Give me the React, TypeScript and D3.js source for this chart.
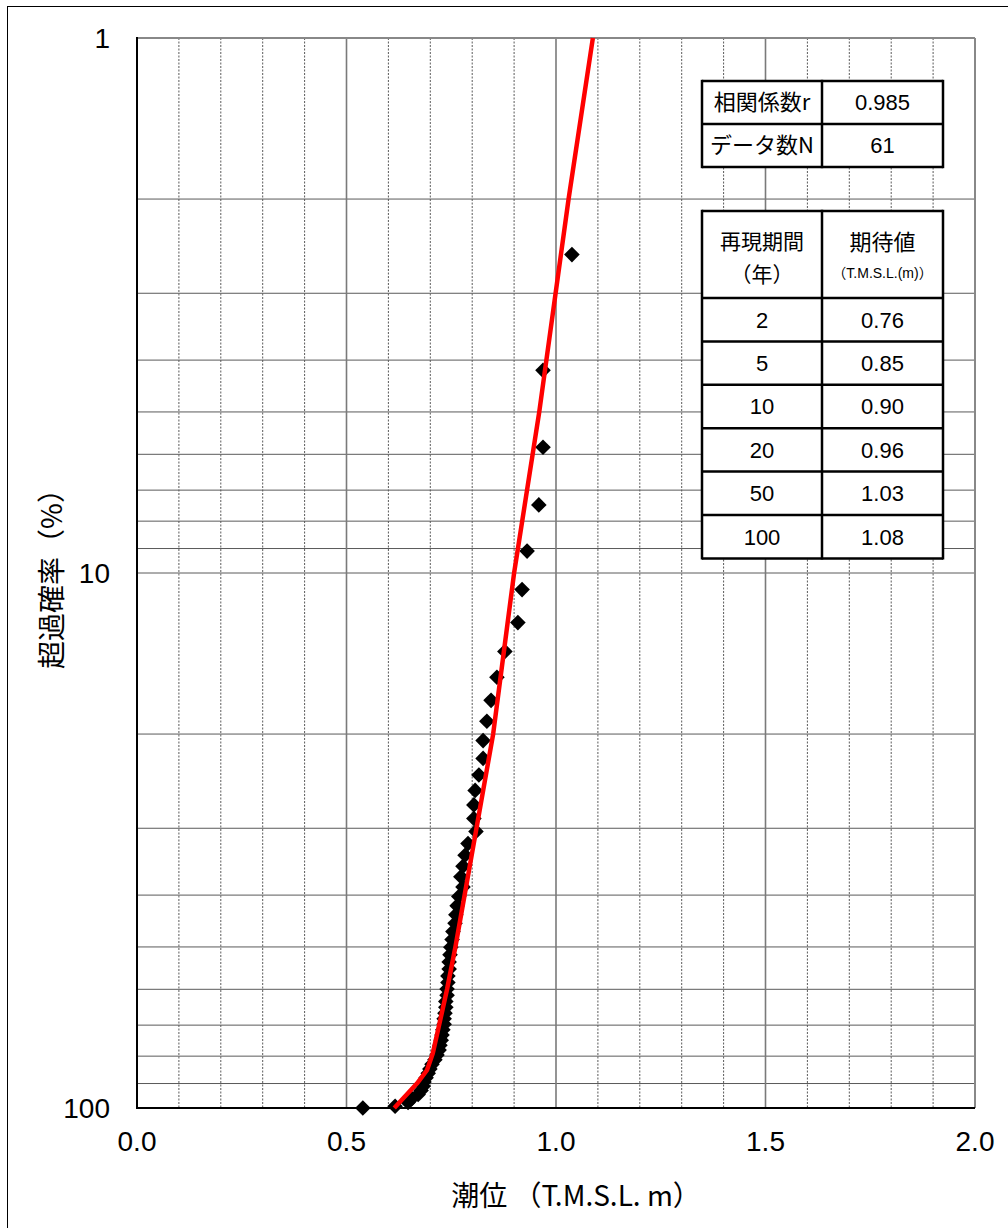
import React from "react";
import * as d3 from "d3";

// ---- data ----
const X_TICKS = [0, 0.5, 1.0, 1.5, 2.0];
const Y_TICKS = [1, 10, 100];
const Y_GRID = [2, 3, 4, 5, 6, 7, 8, 9, 10, 20, 30, 40, 50, 60, 70, 80, 90];

// observed annual maxima (T.M.S.L. m), ranked high → low
const WATER_LEVEL = [
  1.038, 0.969, 0.969, 0.959, 0.931, 0.919, 0.909, 0.878, 0.859, 0.845,
  0.835, 0.826, 0.826, 0.816, 0.807, 0.804, 0.804, 0.809, 0.79, 0.783,
  0.778, 0.773, 0.778, 0.768, 0.764, 0.761, 0.759, 0.754, 0.752, 0.749,
  0.747, 0.745, 0.745, 0.742, 0.742, 0.74, 0.74, 0.737, 0.737, 0.735,
  0.733, 0.733, 0.73, 0.728, 0.726, 0.723, 0.721, 0.716, 0.711, 0.704,
  0.699, 0.695, 0.69, 0.685, 0.683, 0.678, 0.671, 0.656, 0.647, 0.616,
  0.539,
];
// exceedance probability (%) of each point
const EXCEEDANCE = [
  2.54, 4.18, 5.82, 7.46, 9.1, 10.74, 12.38, 14.02, 15.66, 17.3,
  18.93, 20.57, 22.21, 23.85, 25.49, 27.13, 28.77, 30.41, 32.05, 33.69,
  35.33, 36.97, 38.61, 40.25, 41.89, 43.52, 45.16, 46.8, 48.44, 50.08,
  51.72, 53.36, 55.0, 56.64, 58.28, 59.92, 61.56, 63.2, 64.84, 66.48,
  68.11, 69.75, 71.39, 73.03, 74.67, 76.31, 77.95, 79.59, 81.23, 82.87,
  84.51, 86.15, 87.79, 89.43, 91.07, 92.7, 94.34, 95.98, 97.62, 99.26,
  100,
];
// fitted curve
const FIT_PROB = [1, 2, 5, 10, 20, 50, 60, 70, 79, 85, 90, 100];
const FIT_LEVEL = [1.088, 1.03, 0.96, 0.9, 0.85, 0.76, 0.74, 0.721, 0.706, 0.692, 0.668, 0.614];

const STAT_LABELS = ["相関係数r", "データ数N"];
const STAT_VALUES = ["0.985", "61"];
const RETURN_PERIODS = ["2", "5", "10", "20", "50", "100"];
const EXPECTED = ["0.76", "0.85", "0.90", "0.96", "1.03", "1.08"];

const FONT = "'Liberation Sans', Arial, 'Noto Sans CJK JP', sans-serif";
const JFONT = "'Noto Sans CJK JP', 'Liberation Sans', sans-serif";

export default function App() {
  const W = 1008;
  const H = 1228;
  const L = 137, R = 975, T = 38, B = 1108;
  const x = d3.scaleLinear().domain([0, 2]).range([L, R]);
  const y = d3.scaleLog().domain([1, 100]).range([T, B]);

  const vGrid = d3.range(1, 20).map((i) => i / 10);

  const fitPts: [number, number][] = FIT_PROB.map((p, i) => [FIT_LEVEL[i], p]);
  const line = d3
    .line<[number, number]>()
    .x((d) => x(d[0]))
    .y((d) => y(d[1]));

  const diamond = (cx: number, cy: number, r: number) =>
    `M${cx},${cy - r}L${cx + r},${cy}L${cx},${cy + r}L${cx - r},${cy}Z`;

  // tables
  const tL = 702, tM = 822, tR = 943;
  const t1Rows = [81, 124, 167];
  const t2Top = 211, t2Head = 298;
  const t2Rows = d3.range(0, 7).map((i) => t2Head + i * 43.4);

  return (
    <div style={{ position: "absolute", left: 0, top: 0 }}>
      <svg width={W} height={H} style={{ display: "block", background: "#fff" }}>
        <rect x={0} y={0} width={W} height={H} fill="#fff" />
        {/* outer frame */}
        <rect x={7.5} y={6.5} width={1100} height={1300} fill="none" stroke="#000" strokeWidth={1} />

        {/* horizontal grid */}
        {Y_GRID.map((v) => (
          <line key={"h" + v} x1={L} x2={R} y1={y(v)} y2={y(v)} stroke="#5a5a5a" strokeWidth={1} />
        ))}
        {/* vertical grid */}
        {vGrid.map((v) => {
          const major = Math.abs(v * 2 - Math.round(v * 2)) < 1e-6;
          return (
            <line
              key={"v" + v}
              x1={x(v)}
              x2={x(v)}
              y1={T}
              y2={B}
              stroke={major ? "#7a7a7a" : "#5a5a5a"}
              strokeWidth={major ? 1.6 : 1}
              strokeDasharray={major ? undefined : "2,1.5"}
            />
          );
        })}

        {/* plot border */}
        <line x1={L} x2={R} y1={T} y2={T} stroke="#888" strokeWidth={2} />
        <line x1={R} x2={R} y1={T} y2={B} stroke="#888" strokeWidth={2} />
        <line x1={L} x2={L} y1={T - 1} y2={B + 1} stroke="#000" strokeWidth={2} />
        <line x1={L - 1} x2={R} y1={B} y2={B} stroke="#000" strokeWidth={2} />

        {/* data points */}
        {WATER_LEVEL.map((v, i) => (
          <path key={"p" + i} d={diamond(x(v), y(EXCEEDANCE[i]), 7.8)} fill="#000" />
        ))}

        {/* fitted line */}
        <path d={line(fitPts) || ""} fill="none" stroke="#ff0000" strokeWidth={4.5} strokeLinejoin="round" />

        {/* y tick labels */}
        {Y_TICKS.map((v) => (
          <text
            key={"yt" + v}
            x={110}
            y={y(v)}
            dy="0.36em"
            textAnchor="end"
            fontFamily={FONT}
            fontSize={28}
            fill="#000"
          >
            {String(v)}
          </text>
        ))}
        {/* x tick labels */}
        {X_TICKS.map((v) => (
          <text
            key={"xt" + v}
            x={x(v)}
            y={1151}
            textAnchor="middle"
            fontFamily={FONT}
            fontSize={28}
            fill="#000"
          >
            {d3.format(".1f")(v)}
          </text>
        ))}

        {/* axis titles */}
        <text x={576} y={1206} textAnchor="middle" fontFamily={JFONT} fontSize={28} fill="#000">
          潮位 （T.M.S.L. m）
        </text>
        <text
          transform={`translate(62,${572}) rotate(-90)`}
          textAnchor="middle"
          fontFamily={JFONT}
          fontSize={28}
          fill="#000"
        >
          超過確率（%）
        </text>

        {/* stats table */}
        <rect x={tL} y={t1Rows[0]} width={tR - tL} height={t1Rows[2] - t1Rows[0]} fill="#fff" />
        {t1Rows.map((ry, i) => (
          <line key={"t1h" + i} x1={tL} x2={tR} y1={ry} y2={ry} stroke="#000" strokeWidth={2.5} />
        ))}
        {[tL, tM, tR].map((cx, i) => (
          <line key={"t1v" + i} x1={cx} x2={cx} y1={t1Rows[0] - 1.2} y2={t1Rows[2] + 1.2} stroke="#000" strokeWidth={2.5} />
        ))}
        {STAT_LABELS.map((s, i) => (
          <text
            key={"sl" + i}
            x={(tL + tM) / 2}
            y={(t1Rows[i] + t1Rows[i + 1]) / 2}
            dy="0.36em"
            textAnchor="middle"
            fontFamily={JFONT}
            fontSize={22}
          >
            {s}
          </text>
        ))}
        {STAT_VALUES.map((s, i) => (
          <text
            key={"sv" + i}
            x={(tM + tR) / 2}
            y={(t1Rows[i] + t1Rows[i + 1]) / 2}
            dy="0.36em"
            textAnchor="middle"
            fontFamily={FONT}
            fontSize={22}
          >
            {s}
          </text>
        ))}

        {/* return period table */}
        <rect x={tL} y={t2Top} width={tR - tL} height={t2Rows[6] - t2Top} fill="#fff" />
        {[t2Top, ...t2Rows].map((ry, i) => (
          <line key={"t2h" + i} x1={tL} x2={tR} y1={ry} y2={ry} stroke="#000" strokeWidth={2.5} />
        ))}
        {[tL, tM, tR].map((cx, i) => (
          <line key={"t2v" + i} x1={cx} x2={cx} y1={t2Top - 1.2} y2={t2Rows[6] + 1.2} stroke="#000" strokeWidth={2.5} />
        ))}
        <text x={(tL + tM) / 2} y={249} textAnchor="middle" fontFamily={JFONT} fontSize={21}>
          再現期間
        </text>
        <text x={(tL + tM) / 2} y={282} textAnchor="middle" fontFamily={JFONT} fontSize={21}>
          （年）
        </text>
        <text x={(tM + tR) / 2} y={250} textAnchor="middle" fontFamily={JFONT} fontSize={22}>
          期待値
        </text>
        <text x={(tM + tR) / 2} y={278} textAnchor="middle" fontFamily={FONT} fontSize={14}>
          （T.M.S.L.(m)）
        </text>
        {RETURN_PERIODS.map((s, i) => (
          <text
            key={"rp" + i}
            x={(tL + tM) / 2}
            y={(t2Rows[i] + t2Rows[i + 1]) / 2}
            dy="0.36em"
            textAnchor="middle"
            fontFamily={FONT}
            fontSize={22}
          >
            {s}
          </text>
        ))}
        {EXPECTED.map((s, i) => (
          <text
            key={"ex" + i}
            x={(tM + tR) / 2}
            y={(t2Rows[i] + t2Rows[i + 1]) / 2}
            dy="0.36em"
            textAnchor="middle"
            fontFamily={FONT}
            fontSize={22}
          >
            {s}
          </text>
        ))}
      </svg>
    </div>
  );
}
